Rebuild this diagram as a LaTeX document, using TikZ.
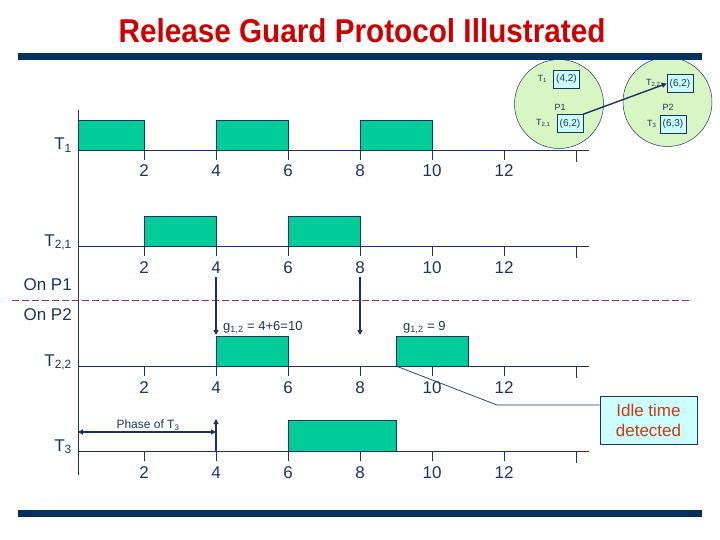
\documentclass[tikz,border=0pt]{standalone}
\usepackage{fontspec}
\setmainfont{Liberation Sans}
\usetikzlibrary{arrows.meta,positioning}

\definecolor{marine}{HTML}{1C3366}
\definecolor{barre}{HTML}{06305E}
\definecolor{vertjob}{HTML}{00CC99}
\definecolor{vertclair}{HTML}{D8F5C4}
\definecolor{cyanclair}{HTML}{CCFFFF}
\definecolor{rouge}{HTML}{CC0000}
\definecolor{orange}{HTML}{CC3A10}
\definecolor{tirets}{HTML}{A83040}

\begin{document}
\begin{tikzpicture}[x=1pt,y=-1pt,
  trait/.style={draw=marine,line width=0.9pt},
  tache/.style={draw=marine,fill=vertjob,line width=0.9pt},
  nombre/.style={text=marine,font=\fontsize{17}{17}\selectfont,anchor=base,inner sep=0pt},
  nomtache/.style={text=marine,font=\fontsize{17}{17}\selectfont,anchor=base east,inner sep=0pt},
  proc/.style={circle,draw=marine,fill=vertclair,minimum size=89pt,inner sep=0pt,line width=0.5pt},
  boite/.style={draw=marine,fill=cyanclair,line width=0.6pt,text=marine,
    font=\fontsize{10}{10}\selectfont,minimum width=26pt,minimum height=18pt,inner sep=1pt},
  petit/.style={text=marine,font=\fontsize{9}{9}\selectfont,inner sep=0pt},
  fleche/.style={-{Triangle[length=5pt,width=5pt]},draw=marine,line width=1.4pt}]
\useasboundingbox (0,0) rectangle (720,540);

% Titre
\node[text=rouge,font=\bfseries\fontsize{33}{33}\selectfont] (titre) at (362,31)
  {\scalebox{0.9}[1]{Release Guard Protocol Illustrated}};

% Processeurs P1 et P2
\node[proc] (p1) at (559,104) {};
\node[proc] (p2) at (667.5,102) {};
\node[petit] (np1) at (560,107) {P1};
\node[petit] (np2) at (668,107) {P2};
\node[boite] (b1) at (566.5,79) {(4,2)};
\node[boite] (b21) at (570,123.5) {(6,2)};
\node[boite] (b22) at (680,83.5) {(6,2)};
\node[boite] (b3) at (673,124) {(6,3)};
\node[petit,left=6pt of b1] (lb1) {T\textsubscript{1}};
\node[petit,left=6pt of b21] (lb21) {T\textsubscript{2,1}};
\node[petit,left=6pt of b22] (lb22) {T\textsubscript{2,2}};
\node[petit,left=3pt of b3] (lb3) {T\textsubscript{3}};
\draw[fleche] (b21.north east) -- (b22.west);

% Barres
\fill[barre] (18,53) rectangle (702,60);
\fill[barre] (18,510) rectangle (702,517);

% Axes du temps
\coordinate (haut) at (78,110);
\coordinate (bas) at (78,475);
\draw[trait] (haut) -- (bas);
\foreach \y/\n in {150/1,246/2,366/3,451/4} {
  \coordinate (o\n) at (78,\y);
  \coordinate (f\n) at (589,\y);
  \draw[trait] (o\n) -- (f\n);
  \foreach \t in {2,4,...,12} {
    \draw[trait] ({72+36*\t},\y) -- ++(0,10);
    \node[nombre] (n\n-\t) at ({72+36*\t},{\y+27}) {\t};
  }
  \draw[trait] (576,\y) -- ++(0,12);
}

% Noms des taches
\node[nomtache] (lt1) at (72,150) {T\textsubscript{1}};
\node[nomtache] (lt21) at (72,246) {T\textsubscript{2,1}};
\node[nomtache] (lp1) at (72,290) {On P1};
\node[nomtache] (lp2) at (72,320) {On P2};
\node[nomtache] (lt22) at (72,366) {T\textsubscript{2,2}};
\node[nomtache] (lt3) at (72,451) {T\textsubscript{3}};

% Executions
\draw[tache] (78,120) rectangle (144,150);
\foreach \a/\b in {4/6,8/10}
  \draw[tache] ({72+36*\a},120) rectangle ({72+36*\b},150);
\foreach \a/\b in {2/4,6/8}
  \draw[tache] ({72+36*\a},216) rectangle ({72+36*\b},246);
\foreach \a/\b in {4/6,9/11}
  \draw[tache] ({72+36*\a},336) rectangle ({72+36*\b},366);
\draw[tache] (288,420) rectangle (396,451);

% Separation P1 / P2
\draw[draw=tirets,line width=1pt,dash pattern=on 7pt off 3pt] (12,300) -- (690,300);

% Liberations de T2,2
\coordinate (r1) at (216,277);
\coordinate (r1b) at (216,335);
\coordinate (r2) at (360,277);
\coordinate (r2b) at (360,335);
\draw[fleche,line width=1.2pt] (r1) -- (r1b);
\draw[fleche,line width=1.2pt] (r2) -- (r2b);
\node[text=marine,font=\fontsize{13}{13}\selectfont,anchor=base west,inner sep=0pt] (g1) at (223,330)
  {g\textsubscript{1,2} = 4+6=10};
\node[text=marine,font=\fontsize{13}{13}\selectfont,anchor=base west,inner sep=0pt] (g2) at (403,330)
  {g\textsubscript{1,2} = 9};

% Phase de T3
\coordinate (ph1) at (78,432);
\coordinate (ph2) at (216,432);
\coordinate (ph3) at (216,451);
\coordinate (ph4) at (216,419);
\draw[{Triangle[length=5pt,width=5pt]}-{Triangle[length=5pt,width=5pt]},draw=marine,line width=1.4pt] (ph1) -- (ph2);
\draw[fleche] (ph3) -- (ph4);
\node[text=marine,font=\fontsize{12}{12}\selectfont,inner sep=0pt] (phase) at (148,425) {Phase of T\textsubscript{3}};

% Temps creux
\node[draw=marine,fill=cyanclair,line width=0.8pt,text=orange,align=center,
  font=\fontsize{17}{20}\selectfont,minimum width=97pt,minimum height=48pt] (idle) at (648.5,420)
  {Idle time\\detected};
\coordinate (c1) at (396,366);
\coordinate (c2) at (497,405);
\draw[marine,line width=0.7pt] (c1) -- (c2) -- (c2 -| idle.west);
\end{tikzpicture}
\end{document}
